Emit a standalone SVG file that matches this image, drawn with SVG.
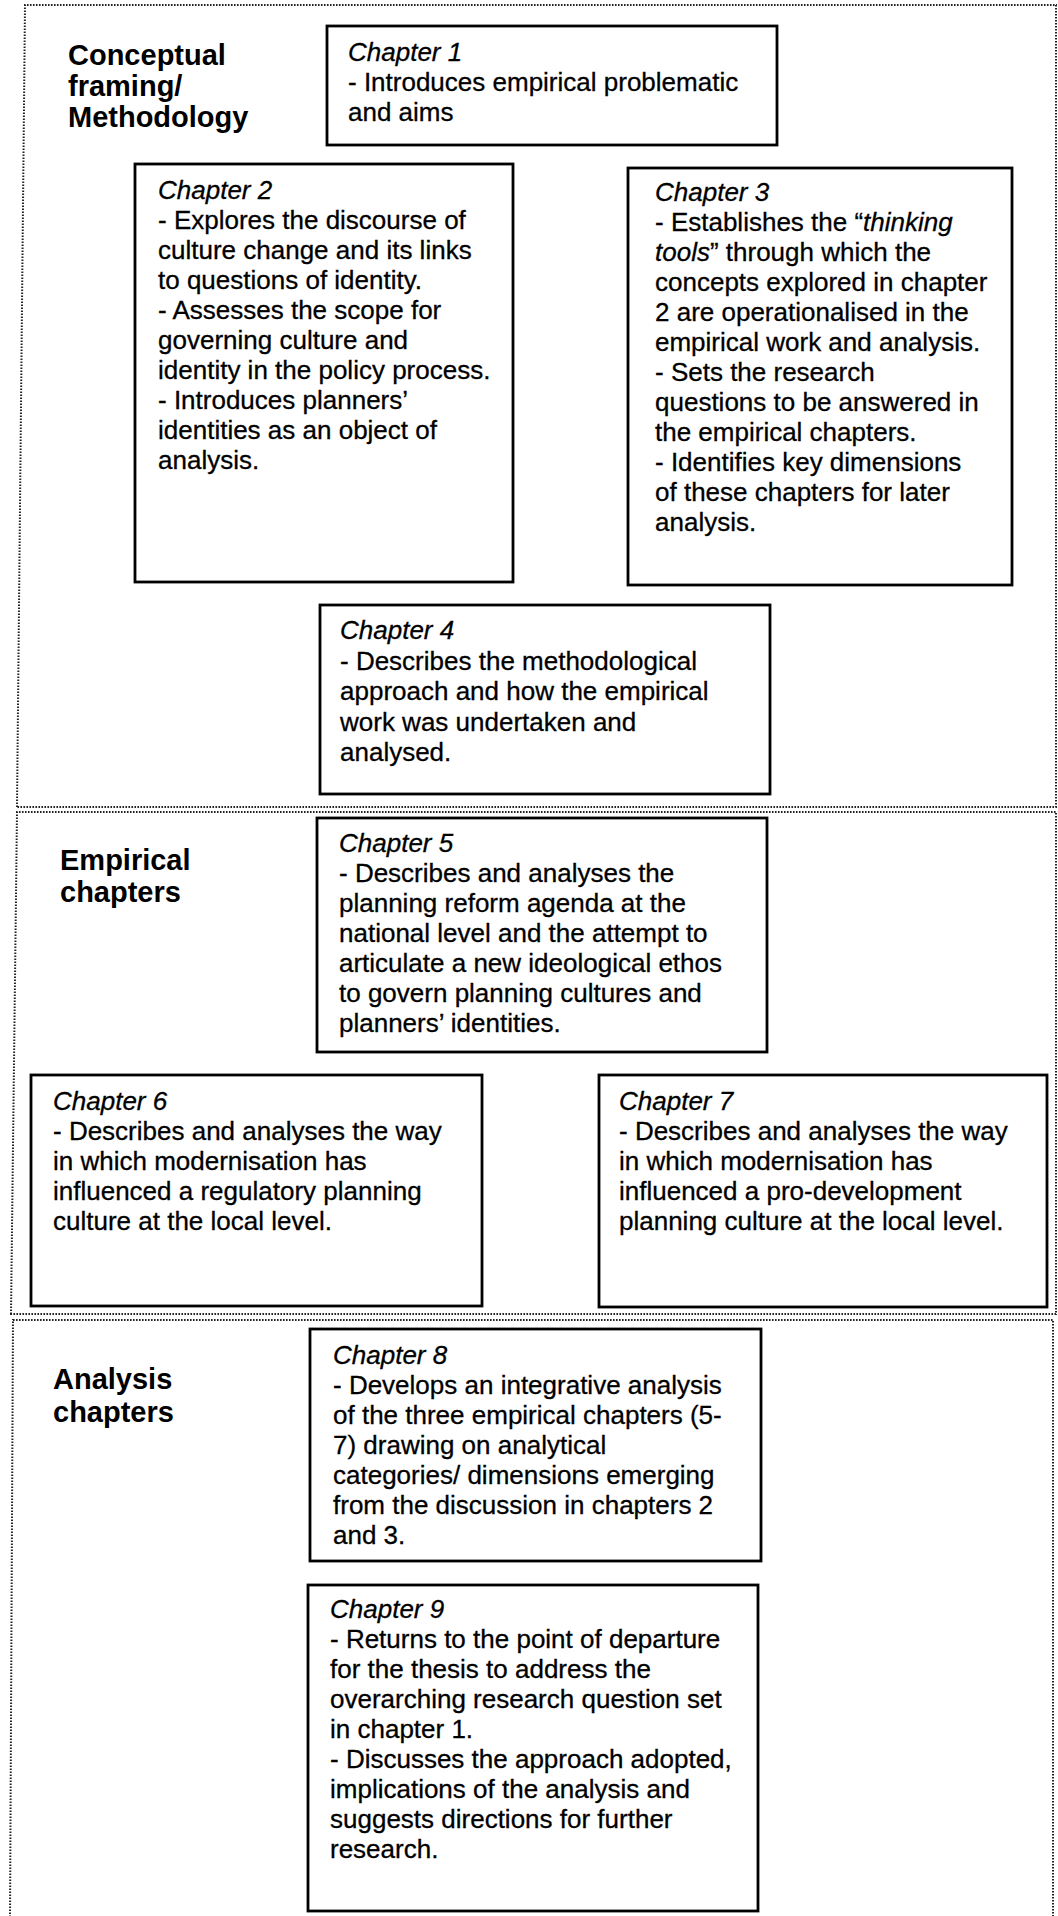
<svg xmlns="http://www.w3.org/2000/svg" width="1058" height="1916" viewBox="0 0 1058 1916">
<style>
.sec{fill:none;stroke:#222;stroke-width:2;stroke-dasharray:1.6 1.4}
.box{fill:#fff;stroke:#000;stroke-width:2.8}
.t{font-family:"Liberation Sans",Arial,sans-serif;font-size:26px;fill:#000;stroke:#000;stroke-width:0.3}
.h{font-family:"Liberation Sans",Arial,sans-serif;font-size:29px;font-weight:bold;fill:#000}
.i{font-style:italic}
</style>
<rect width="1058" height="1916" fill="#fff"/>
<g id="sections">
<path class="sec" d="M17,807 L25,5 L1056,5 L1056,807 Z"/>
<path class="sec" d="M11,1314 L17,812 L1056,812 L1056,1314 Z"/>
<path class="sec" d="M10,1920 L13,1320 L1053,1320 L1053,1920"/>
</g>
<g id="label-conceptual">
<text class="h" x="68" y="65">Conceptual</text>
<text class="h" x="68" y="96">framing/</text>
<text class="h" x="68" y="127">Methodology</text>
</g>
<g id="label-empirical">
<text class="h" x="60" y="870">Empirical</text>
<text class="h" x="60" y="902">chapters</text>
</g>
<g id="label-analysis">
<text class="h" x="53" y="1389">Analysis</text>
<text class="h" x="53" y="1422">chapters</text>
</g>
<g id="chapter1">
<rect class="box" x="327" y="26" width="450" height="119"/>
<text class="t" x="348"><tspan class="i" x="348" y="61">Chapter 1</tspan><tspan x="348" y="91">- Introduces empirical problematic</tspan><tspan x="348" y="121">and aims</tspan></text>
</g>
<g id="chapter2">
<rect class="box" x="135" y="164" width="378" height="418"/>
<text class="t"><tspan class="i" x="158" y="199">Chapter 2</tspan><tspan x="158" y="229">- Explores the discourse of</tspan><tspan x="158" y="259">culture change and its links</tspan><tspan x="158" y="289">to questions of identity.</tspan><tspan x="158" y="319">- Assesses the scope for</tspan><tspan x="158" y="349">governing culture and</tspan><tspan x="158" y="379">identity in the policy process.</tspan><tspan x="158" y="409">- Introduces planners’</tspan><tspan x="158" y="439">identities as an object of</tspan><tspan x="158" y="469">analysis.</tspan></text>
</g>
<g id="chapter3">
<rect class="box" x="628" y="168" width="384" height="417"/>
<text class="t"><tspan class="i" x="655" y="201">Chapter 3</tspan><tspan x="655" y="231">- Establishes the “<tspan class="i">thinking</tspan></tspan><tspan x="655" y="261"><tspan class="i">tools</tspan>” through which the</tspan><tspan x="655" y="291">concepts explored in chapter</tspan><tspan x="655" y="321">2 are operationalised in the</tspan><tspan x="655" y="351">empirical work and analysis.</tspan><tspan x="655" y="381">- Sets the research</tspan><tspan x="655" y="411">questions to be answered in</tspan><tspan x="655" y="441">the empirical chapters.</tspan><tspan x="655" y="471">- Identifies key dimensions</tspan><tspan x="655" y="501">of these chapters for later</tspan><tspan x="655" y="531">analysis.</tspan></text>
</g>
<g id="chapter4">
<rect class="box" x="320" y="605" width="450" height="189"/>
<text class="t"><tspan class="i" x="340" y="639">Chapter 4</tspan><tspan x="340" y="669.5">- Describes the methodological</tspan><tspan x="340" y="700">approach and how the empirical</tspan><tspan x="340" y="730.5">work was undertaken and</tspan><tspan x="340" y="761">analysed.</tspan></text>
</g>
<g id="chapter5">
<rect class="box" x="317" y="818" width="450" height="234"/>
<text class="t"><tspan class="i" x="339" y="852">Chapter 5</tspan><tspan x="339" y="882">- Describes and analyses the</tspan><tspan x="339" y="912">planning reform agenda at the</tspan><tspan x="339" y="942">national level and the attempt to</tspan><tspan x="339" y="972">articulate a new ideological ethos</tspan><tspan x="339" y="1002">to govern planning cultures and</tspan><tspan x="339" y="1032">planners’ identities.</tspan></text>
</g>
<g id="chapter6">
<rect class="box" x="31" y="1075" width="451" height="231"/>
<text class="t"><tspan class="i" x="53" y="1110">Chapter 6</tspan><tspan x="53" y="1140">- Describes and analyses the way</tspan><tspan x="53" y="1170">in which modernisation has</tspan><tspan x="53" y="1200">influenced a regulatory planning</tspan><tspan x="53" y="1230">culture at the local level.</tspan></text>
</g>
<g id="chapter7">
<rect class="box" x="599" y="1075" width="448" height="232"/>
<text class="t"><tspan class="i" x="619" y="1110">Chapter 7</tspan><tspan x="619" y="1140">- Describes and analyses the way</tspan><tspan x="619" y="1170">in which modernisation has</tspan><tspan x="619" y="1200">influenced a pro-development</tspan><tspan x="619" y="1230">planning culture at the local level.</tspan></text>
</g>
<g id="chapter8">
<rect class="box" x="310" y="1329" width="451" height="232"/>
<text class="t"><tspan class="i" x="333" y="1364">Chapter 8</tspan><tspan x="333" y="1394">- Develops an integrative analysis</tspan><tspan x="333" y="1424">of the three empirical chapters (5-</tspan><tspan x="333" y="1454">7) drawing on analytical</tspan><tspan x="333" y="1484">categories/ dimensions emerging</tspan><tspan x="333" y="1514">from the discussion in chapters 2</tspan><tspan x="333" y="1544">and 3.</tspan></text>
</g>
<g id="chapter9">
<rect class="box" x="308" y="1585" width="450" height="326"/>
<text class="t"><tspan class="i" x="330" y="1618">Chapter 9</tspan><tspan x="330" y="1648">- Returns to the point of departure</tspan><tspan x="330" y="1678">for the thesis to address the</tspan><tspan x="330" y="1708">overarching research question set</tspan><tspan x="330" y="1738">in chapter 1.</tspan><tspan x="330" y="1768">- Discusses the approach adopted,</tspan><tspan x="330" y="1798">implications of the analysis and</tspan><tspan x="330" y="1828">suggests directions for further</tspan><tspan x="330" y="1858">research.</tspan></text>
</g>
<g id="connectors"></g>
</svg>
